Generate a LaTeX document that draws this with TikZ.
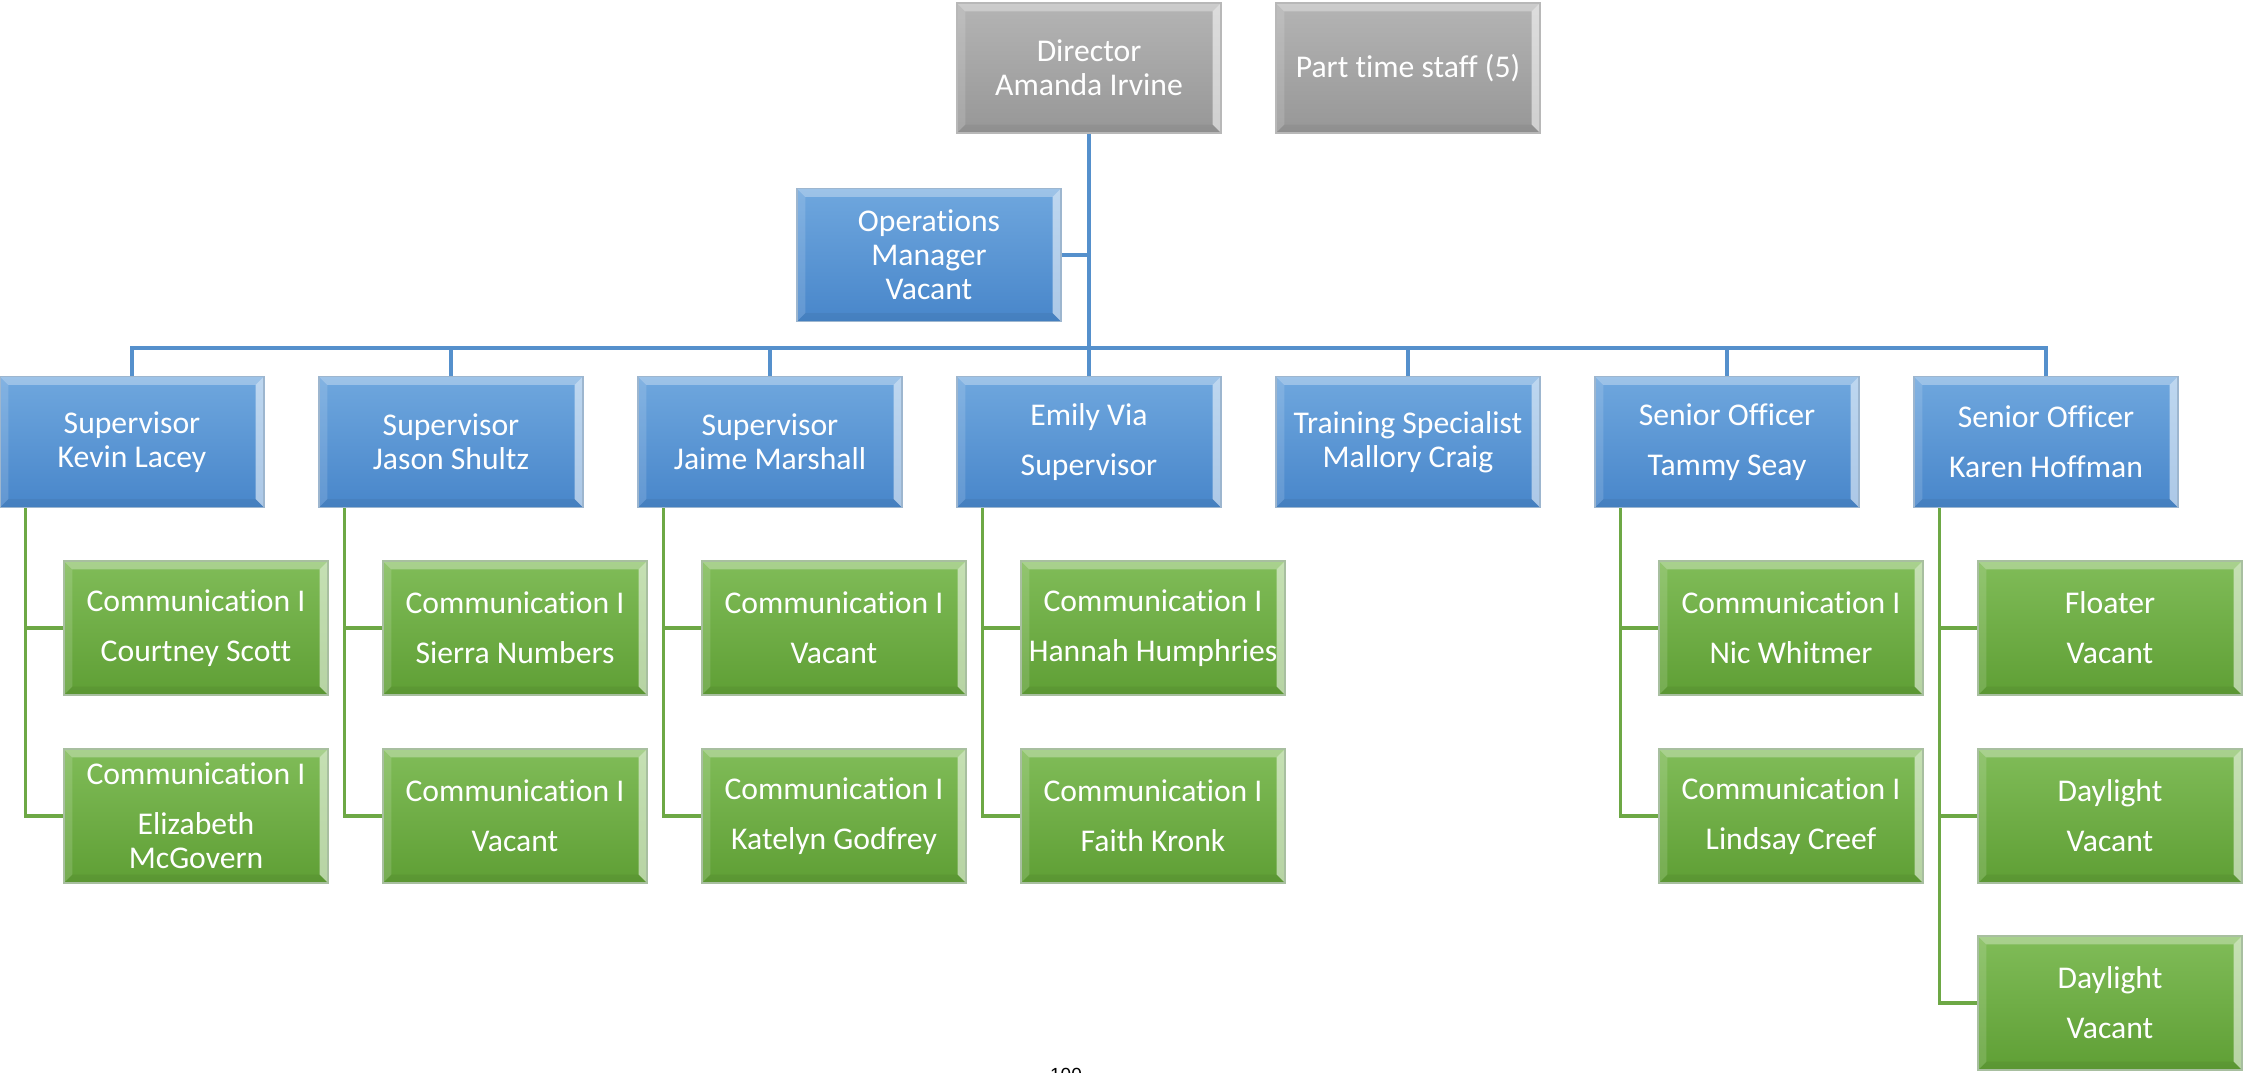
\documentclass[tikz,border=0pt]{standalone}
\usepackage{fontspec}
\setmainfont[Ligatures={NoCommon,NoRequired,NoContextual}]{Carlito}
\newfontfamily\pagefont{Liberation Sans}

\definecolor{blueTop}{HTML}{6FA7DE}
\definecolor{blueBot}{HTML}{4886CA}
\definecolor{blueEdge}{HTML}{9DB6CF}
\definecolor{greenTop}{HTML}{80BC58}
\definecolor{greenBot}{HTML}{5F9F35}
\definecolor{greenEdge}{HTML}{A8BFA0}
\definecolor{grayTop}{HTML}{B4B4B4}
\definecolor{grayBot}{HTML}{979797}
\definecolor{grayEdge}{HTML}{B8B8B8}
\definecolor{blueLine}{HTML}{5590CC}
\definecolor{greenLine}{HTML}{6DA845}

\tikzset{
  x=0.01cm, y=-0.01cm,
  % bevelled card: light top and right rims, faint darker bottom rim
  bevel/.style={path picture={
    \fill[white,opacity=0.32] (path picture bounding box.north west) -- (path picture bounding box.north east)
      -- ([shift={(-0.085cm,-0.085cm)}]path picture bounding box.north east) -- ([shift={(0.085cm,-0.085cm)}]path picture bounding box.north west) -- cycle;
    \fill[white,opacity=0.55] (path picture bounding box.north east) -- (path picture bounding box.south east)
      -- ([shift={(-0.085cm,0.085cm)}]path picture bounding box.south east) -- ([shift={(-0.085cm,-0.085cm)}]path picture bounding box.north east) -- cycle;
    \fill[black,opacity=0.05] (path picture bounding box.south east) -- (path picture bounding box.south west)
      -- ([shift={(0.085cm,0.085cm)}]path picture bounding box.south west) -- ([shift={(-0.085cm,0.085cm)}]path picture bounding box.south east) -- cycle;
    \fill[white,opacity=0.14] (path picture bounding box.south west) -- (path picture bounding box.north west)
      -- ([shift={(0.085cm,-0.085cm)}]path picture bounding box.north west) -- ([shift={(0.085cm,0.085cm)}]path picture bounding box.south west) -- cycle;
  }},
  card/.style={bevel, minimum width=2.64cm, minimum height=1.31cm, inner sep=0pt,
    align=center, text=white, font=\fontsize{9}{9.7}\selectfont, line width=0.4pt},
  graycard/.style={card, top color=grayTop, bottom color=grayBot, draw=grayEdge},
  bluecard/.style={card, top color=blueTop, bottom color=blueBot, draw=blueEdge},
  greencard/.style={card, minimum height=1.34cm, top color=greenTop, bottom color=greenBot, draw=greenEdge},
  blueconn/.style={draw=blueLine, line width=0.9pt},
  greenconn/.style={draw=greenLine, line width=0.9pt},
}

\begin{document}
\begin{tikzpicture}
\useasboundingbox (0,0) rectangle (2245,1072);

% top level
\node[graycard, minimum height=1.30cm] (dir) at (1089,68) {Director\\Amanda Irvine};
\node[graycard, minimum height=1.30cm] (pts) at (1408,68) {Part time staff (5)};
\node[bluecard, minimum height=1.33cm] (ops) at (929,255) {Operations\\Manager\\Vacant};

% second level
\node[bluecard] (b1) at (132,442) {Supervisor\\Kevin Lacey};
\node[bluecard] (b2) at (451,442) {Supervisor\\Jason Shultz};
\node[bluecard] (b3) at (770,442) {Supervisor\\Jaime Marshall};
\node[bluecard] (b4) at (1089,442) {Emily Via\\[4.5pt]Supervisor};
\node[bluecard] (b5) at (1408,442) {Training Specialist\\Mallory Craig};
\node[bluecard] (b6) at (1727,442) {Senior Officer\\[4.5pt]Tammy Seay};
\node[bluecard] (b7) at (2046,442) {Senior Officer\\[4.5pt]Karen Hoffman};

% third level
\node[greencard] (g1a) at (196,628) {Communication I\\[4.5pt]Courtney Scott};
\node[greencard] (g1b) at (196,816) {Communication I\\[4.5pt]Elizabeth\\McGovern};
\node[greencard] (g2a) at (515,628) {Communication I\\[4.5pt]Sierra Numbers};
\node[greencard] (g2b) at (515,816) {Communication I\\[4.5pt]Vacant};
\node[greencard] (g3a) at (834,628) {Communication I\\[4.5pt]Vacant};
\node[greencard] (g3b) at (834,816) {Communication I\\[4.5pt]Katelyn Godfrey};
\node[greencard] (g4a) at (1153,628) {Communication I\\[4.5pt]Hannah Humphries};
\node[greencard] (g4b) at (1153,816) {Communication I\\[4.5pt]Faith Kronk};
\node[greencard] (g6a) at (1791,628) {Communication I\\[4.5pt]Nic Whitmer};
\node[greencard] (g6b) at (1791,816) {Communication I\\[4.5pt]Lindsay Creef};
\node[greencard] (g7a) at (2110,628) {Floater\\[4.5pt]Vacant};
\node[greencard] (g7b) at (2110,816) {Daylight\\[4.5pt]Vacant};
\node[greencard] (g7c) at (2110,1003) {Daylight\\[4.5pt]Vacant};

% blue connectors
\coordinate (bus) at (1089,348);
\draw[blueconn] (dir.south) -- (dir.south |- bus);
\draw[blueconn] (ops.east) -- (ops.east -| dir.south);
\draw[blueconn] (b1.north) -- (b1.north |- bus) -- (b7.north |- bus) -- (b7.north);
\foreach \b in {b2,b3,b4,b5,b6}
  \draw[blueconn] (\b.north) -- (\b.north |- bus);

% green connectors
\foreach \b/\first/\last in {b1/g1a/g1b, b2/g2a/g2b, b3/g3a/g3b, b4/g4a/g4b, b6/g6a/g6b, b7/g7a/g7c} {
  \coordinate (\b-s) at ([xshift=0.26cm]\b.south west);
  \draw[greenconn] (\b-s) |- (\last.west);
  \draw[greenconn] (\b-s |- \first.west) -- (\first.west);
}
\draw[greenconn] (b7-s |- g7b.west) -- (g7b.west);

% page number
\node[font=\pagefont\fontsize{5.4}{6}\selectfont, anchor=north, inner sep=0pt] (pg) at (1066,1068) {100};
\end{tikzpicture}
\end{document}
